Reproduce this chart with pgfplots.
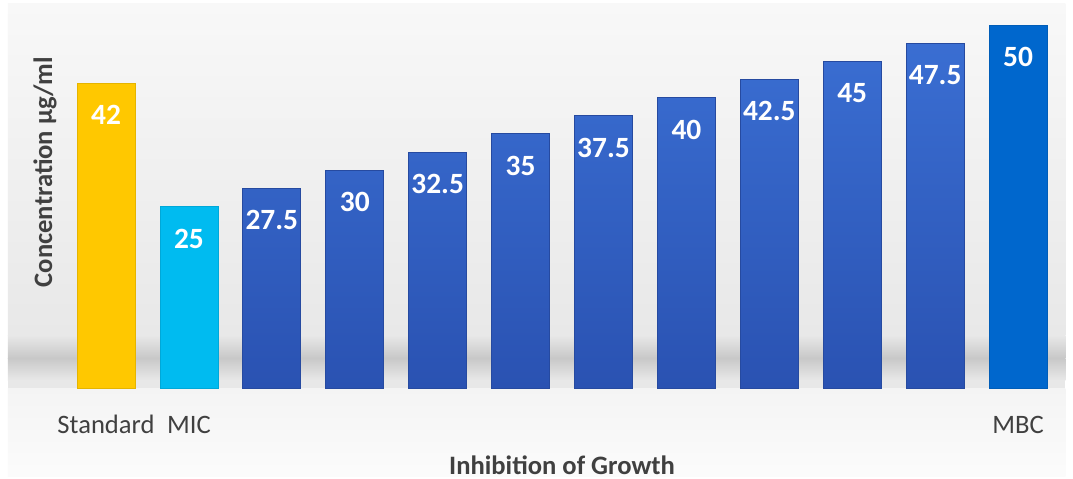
\documentclass[border=0pt]{standalone}
\usepackage{pgfplots}
\pgfplotsset{compat=1.18}
\usepackage{fontspec}
\setmainfont{Carlito}
\definecolor{bgtop}{HTML}{F8F8F8}
\definecolor{bgmid}{HTML}{E8E8E8}
\definecolor{bglow}{HTML}{F4F4F4}
\definecolor{shadow}{HTML}{C8C8C8}
\definecolor{stdc}{HTML}{FFC800}
\definecolor{micc}{HTML}{00BBF0}
\definecolor{bartop}{HTML}{3A6ED2}
\definecolor{barbot}{HTML}{2A52B2}
\definecolor{mbcc}{HTML}{0067CD}
\definecolor{txt}{HTML}{404040}
\begin{document}
\begin{tikzpicture}
\begin{axis}[
  set layers,
  x=41.45pt, y=3.63pt,
  xmin=-1.279, xmax=11.663, ymin=-12.53, ymax=53.44,
  axis line style={draw=none},
  tick style={draw=none},
  clip=false,
  ytick=\empty,
  xtick={0,1,11},
  xticklabels={Standard,MIC,MBC},
  xticklabel style={anchor=center, yshift=31.5pt, font=\fontsize{13.3}{15}\selectfont, text=txt},
  xlabel={Inhibition of Growth},
  ylabel={Concentration µg/ml},
  xlabel style={at={(axis cs:5.5,-10.6)}, anchor=center, font=\fontsize{13.3}{15}\selectfont\bfseries, text=txt},
  ylabel style={at={(axis cs:-0.736,29.75)}, anchor=center, font=\fontsize{13.3}{15}\selectfont\bfseries, text=txt},
  ybar, bar width=29pt,
  nodes near coords,
  nodes near coords style={anchor=center, yshift=-16pt, text=white, font=\fontsize{14.7}{16}\selectfont\bfseries},
  point meta=explicit symbolic,
]
\begin{pgfonlayer}{axis background}
\fill[white] (axis cs:-1.279,-12.53) rectangle (axis cs:11.663,53.44);
\shade[top color=bgtop, bottom color=bgmid] (axis cs:-1.183,7.3) rectangle (axis cs:11.57,53.0);
\shade[top color=bgmid, bottom color=shadow] (axis cs:-1.183,4.13) rectangle (axis cs:11.57,7.3);
\shade[top color=shadow, bottom color=bgmid] (axis cs:-1.183,1.1) rectangle (axis cs:11.57,4.13);
\fill[bgmid] (axis cs:-1.183,0) rectangle (axis cs:11.57,1.1);
\shade[top color=bglow, bottom color=bgtop!50!white] (axis cs:-1.183,-12.2) rectangle (axis cs:11.57,0);
\end{pgfonlayer}
\coordinate (BL) at (axis cs:-1.279,-12.53);
\coordinate (TR) at (axis cs:11.663,53.44);
\addplot[bar shift=0pt, fill=stdc, draw=stdc!90!black] coordinates {(0,42) [42]};
\addplot[bar shift=0pt, fill=micc, draw=micc!90!black] coordinates {(1,25) [25]};
\addplot[bar shift=0pt, top color=bartop, bottom color=barbot, draw=barbot!90!black] coordinates {
(2,27.5) [27.5]
(3,30) [30]
(4,32.5) [32.5]
(5,35) [35]
(6,37.5) [37.5]
(7,40) [40]
(8,42.5) [42.5]
(9,45) [45]
(10,47.5) [47.5]
};
\addplot[bar shift=0pt, fill=mbcc, draw=mbcc!90!black] coordinates {(11,50) [50]};
\end{axis}
\pgfresetboundingbox
\useasboundingbox (BL) rectangle (TR);
\end{tikzpicture}
\end{document}
